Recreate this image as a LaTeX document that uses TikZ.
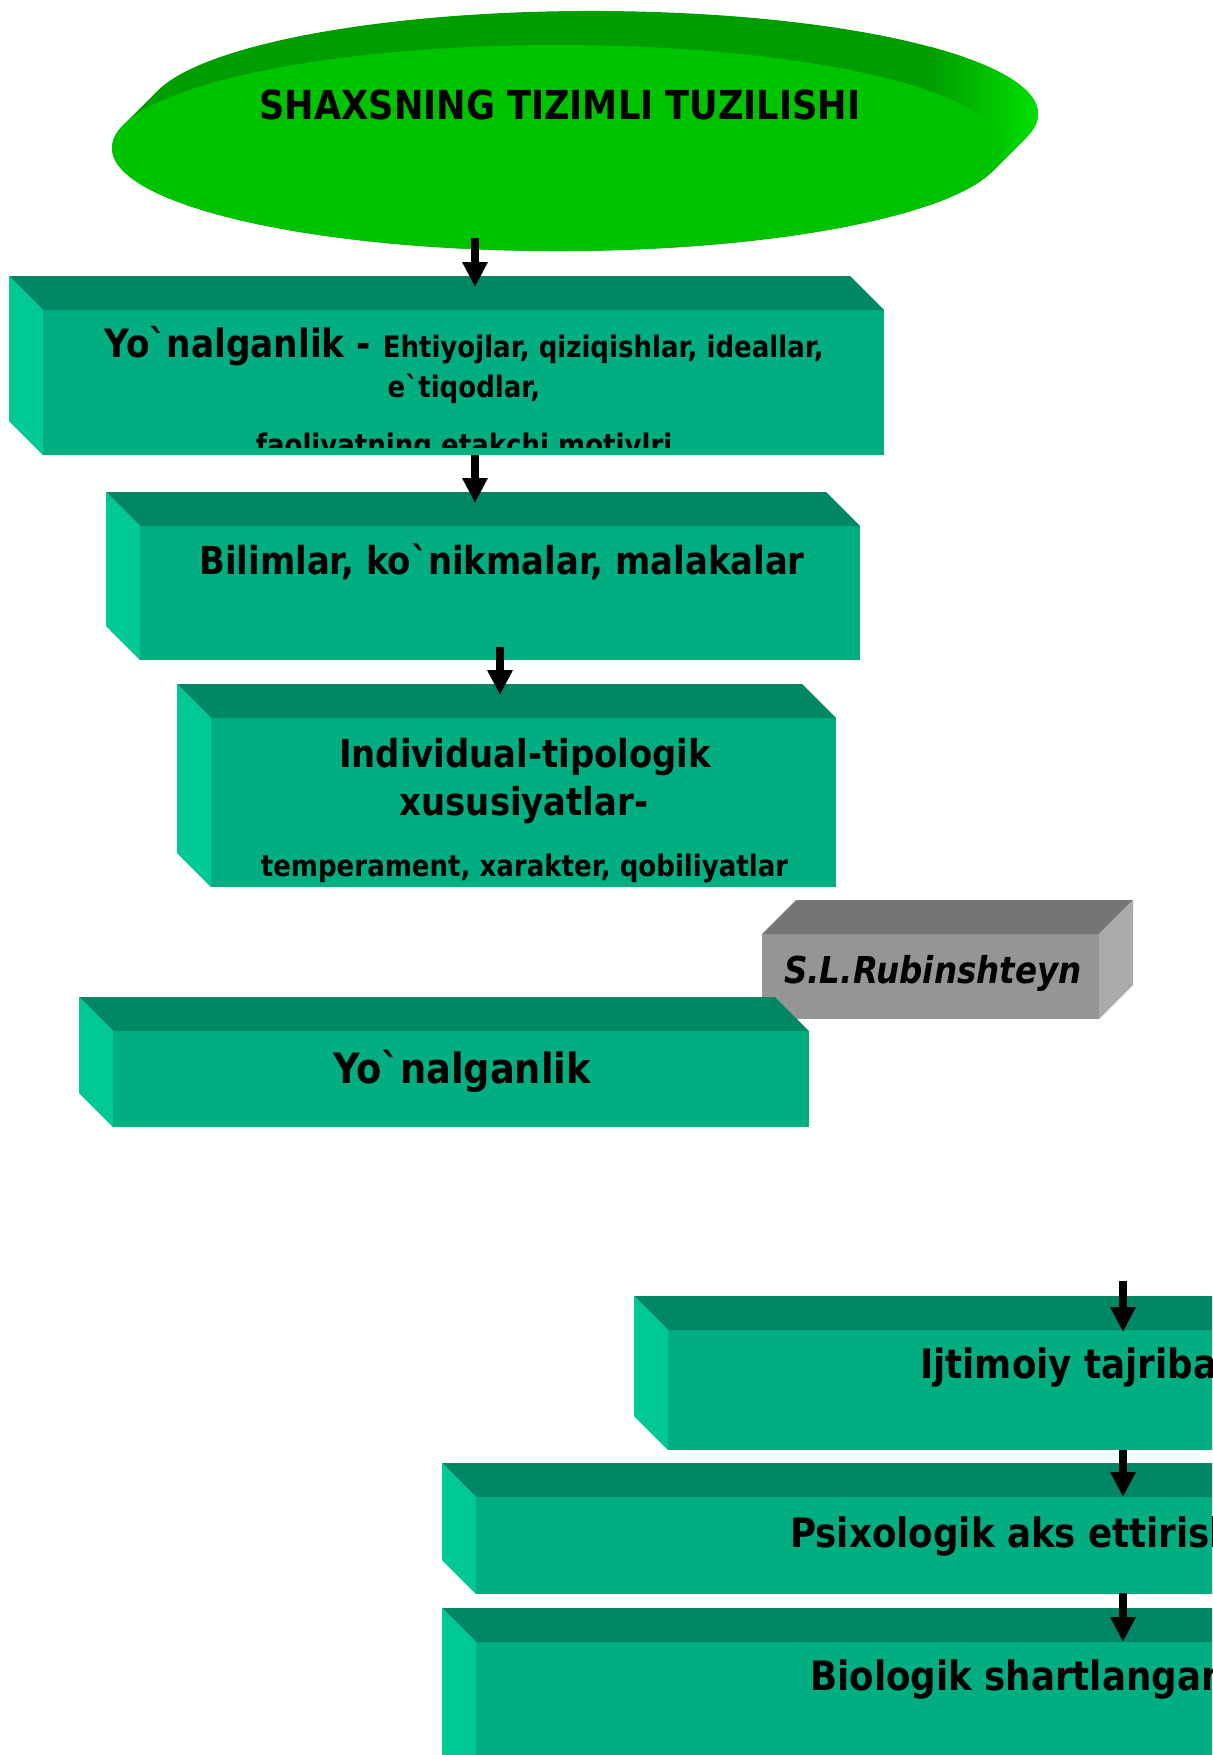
\documentclass[tikz,border=0pt]{standalone}
\usepackage{fontspec}
\setmainfont{DejaVu Sans}[FakeStretch=0.88,Ligatures=TeXOff]
\usetikzlibrary{arrows.meta,shapes.geometric}
\definecolor{tfront}{RGB}{0,174,130}
\definecolor{ttop}{RGB}{0,135,102}
\definecolor{tside}{RGB}{0,200,150}
\definecolor{gfront}{RGB}{149,149,149}
\definecolor{gtop}{RGB}{117,117,117}
\definecolor{gside}{RGB}{170,170,170}
\definecolor{elfront}{RGB}{0,195,0}
\definecolor{elrim}{RGB}{0,158,0}
\definecolor{elbright}{RGB}{0,228,0}
\newcommand\tealfaces[1]{%
  \fill[ttop] (#1.north west) -- ++(-34,-34) -- ([shift={(-34,-34)}]#1.north east) -- (#1.north east) -- cycle;
  \fill[tside] (#1.north west) -- ++(-34,-34) -- ([shift={(-34,-34)}]#1.south west) -- (#1.south west) -- cycle;}
\begin{document}
\begin{tikzpicture}[x=1pt,y=-1pt,
  frontface/.style={rectangle,fill=tfront,draw=none,inner sep=0pt,outer sep=0pt,anchor=north west},
  big/.style={font=\bfseries\fontsize{38.5}{44}\selectfont,inner sep=0pt,anchor=base},
  small/.style={font=\bfseries\fontsize{29.6}{34}\selectfont,inner sep=0pt,anchor=base},
  huge/.style={font=\bfseries\fontsize{40.5}{47}\selectfont,inner sep=0pt,anchor=base west},
  arr/.style={line width=8pt,-{Triangle[length=25pt,width=24pt]}}]
\useasboundingbox (0,0) rectangle (1212,1755);
\clip (0,0) rectangle (1212,1755);
% 3D ellipse
\fill[elrim] ([shift={(13:446 and 103)}]558,148) arc[start angle=13,end angle=193,x radius=446,y radius=103]
  -- ++(34,-34) arc[start angle=193,end angle=373,x radius=446,y radius=103] -- cycle;
\begin{scope}
  \clip ([shift={(13:446 and 103)}]558,148) arc[start angle=13,end angle=193,x radius=446,y radius=103]
  -- ++(34,-34) arc[start angle=193,end angle=373,x radius=446,y radius=103] -- cycle;
  \shade[left color=elrim,right color=elbright] (930,0) rectangle (1045,220);
\end{scope}
\node[ellipse,fill=elfront,draw=none,minimum width=892pt,minimum height=206pt,inner sep=0pt] (el) at (558,148) {};
\node[font=\bfseries\fontsize{40}{46}\selectfont,inner sep=0pt,anchor=base] (title) at (560,120) {SHAXSNING TIZIMLI TUZILISHI};
% box 1
\node[frontface,minimum width=841pt,minimum height=145pt] (b1) at (43,310) {};
\tealfaces{b1}
\begin{scope}
  \clip (43,310) rectangle (884,447);
  \node[inner sep=0pt,anchor=base] (b1l1) at (464,357) {\bfseries\fontsize{39}{44}\selectfont Yo`nalganlik - \fontsize{29.6}{34}\selectfont Ehtiyojlar, qiziqishlar, ideallar,};
  \node[small] (b1l2) at (464,397) {e`tiqodlar,};
  \node[small] (b1l3) at (464,455) {faoliyatning etakchi motivlri};
\end{scope}
% box 2
\node[frontface,minimum width=720pt,minimum height=134pt] (b2) at (140,526) {};
\tealfaces{b2}
\node[big] (b2t) at (502,574) {Bilimlar, ko`nikmalar, malakalar};
% box 3
\node[frontface,minimum width=625pt,minimum height=169pt] (b3) at (211,718) {};
\tealfaces{b3}
\node[big] (b3l1) at (525,767) {Individual-tipologik};
\node[big] (b3l2) at (524,815) {xususiyatlar-};
\node[small] (b3l3) at (524.5,876) {temperament, xarakter, qobiliyatlar};
% gray box
\node[rectangle,fill=gfront,draw=none,inner sep=0pt,outer sep=0pt,anchor=north west,minimum width=337pt,minimum height=85pt] (g) at (762,934) {};
\fill[gtop] (g.north west) -- ++(34,-34) -- ([shift={(34,-34)}]g.north east) -- (g.north east) -- cycle;
\fill[gside] (g.north east) -- ++(34,-34) -- ([shift={(34,-34)}]g.south east) -- (g.south east) -- cycle;
\node[font=\bfseries\itshape\fontsize{37}{42}\selectfont,inner sep=0pt,anchor=base] (gt) at (933,983) {S.L.Rubinshteyn};
% box 4
\node[frontface,minimum width=696pt,minimum height=96pt] (b4) at (113,1031) {};
\tealfaces{b4}
\node[font=\bfseries\fontsize{41.8}{48}\selectfont,inner sep=0pt,anchor=base] (b4t) at (462,1083) {Yo`nalganlik};
% box 5
\node[frontface,minimum width=600pt,minimum height=120pt] (b5) at (668,1330) {};
\tealfaces{b5}
\node[huge] (b5t) at (920,1378) {Ijtimoiy tajriba};
% box 6
\node[frontface,minimum width=800pt,minimum height=97pt] (b6) at (476,1497) {};
\tealfaces{b6}
\node[huge] (b6t) at (790,1547) {Psixologik aks ettirish};
% box 7
\node[frontface,minimum width=800pt,minimum height=160pt] (b7) at (476,1642) {};
\tealfaces{b7}
\node[huge] (b7t) at (810,1690) {Biologik shartlangan};
% arrows
\coordinate (a1s) at (475,238); \coordinate (a1e) at (475,287);
\coordinate (a2s) at (475,455); \coordinate (a2e) at (475,503);
\coordinate (a3s) at (500,647); \coordinate (a3e) at (500,695);
\coordinate (a4s) at (1123,1281); \coordinate (a4e) at (1123,1332);
\coordinate (a5s) at (1123,1450); \coordinate (a5e) at (1123,1497);
\coordinate (a6s) at (1123,1593); \coordinate (a6e) at (1123,1642);
\draw[arr] (a1s) -- (a1e);
\draw[arr] (a2s) -- (a2e);
\draw[arr] (a3s) -- (a3e);
\draw[arr] (a4s) -- (a4e);
\draw[arr] (a5s) -- (a5e);
\draw[arr] (a6s) -- (a6e);
\end{tikzpicture}
\end{document}
